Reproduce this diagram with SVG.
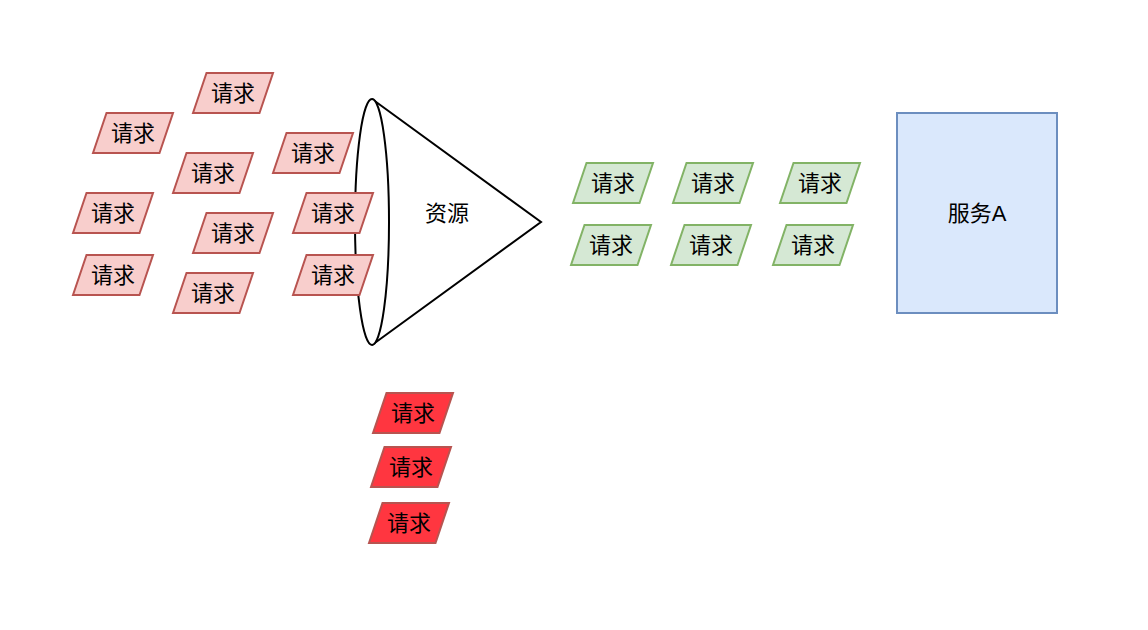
<svg xmlns="http://www.w3.org/2000/svg" xmlns:xlink="http://www.w3.org/1999/xlink" width="1148" height="630" viewBox="0 0 1148 630">
<style>
.pg{stroke-width:2;stroke-linejoin:miter}
.lr{fill:#f8cecc;stroke:#b85450}
.gr{fill:#d5e8d4;stroke:#82b366}
.dr{fill:#ff3640;stroke:#b85450}
.t{font-family:"Liberation Sans","Noto Sans CJK SC",sans-serif;font-size:22px;fill:#000;text-anchor:middle}
</style>
<defs>
<path id="pg" d="M0,40 L13.5,0 L80,0 L66.5,40 Z"/>
</defs>
<rect width="1148" height="630" fill="#fff"/>
<g id="cone">
<path d="M372,99 L541,222 L372,345" fill="#fff" stroke="#000" stroke-width="2"/>
<ellipse cx="372" cy="222" rx="17" ry="123" fill="#fff" stroke="#000" stroke-width="2"/>
<text class="t" x="447" y="221">资源</text>
</g>
<g id="connectors"/>
<g id="r1"><use href="#pg" x="193" y="73" class="pg lr"/><text class="t" x="233" y="101">请求</text></g>
<g id="r2"><use href="#pg" x="93" y="113" class="pg lr"/><text class="t" x="133" y="141">请求</text></g>
<g id="r3"><use href="#pg" x="273" y="133" class="pg lr"/><text class="t" x="313" y="161">请求</text></g>
<g id="r4"><use href="#pg" x="173" y="153" class="pg lr"/><text class="t" x="213" y="181">请求</text></g>
<g id="r5"><use href="#pg" x="73" y="193" class="pg lr"/><text class="t" x="113" y="221">请求</text></g>
<g id="r6"><use href="#pg" x="193" y="213" class="pg lr"/><text class="t" x="233" y="241">请求</text></g>
<g id="r7"><use href="#pg" x="293" y="193" class="pg lr"/><text class="t" x="333" y="221">请求</text></g>
<g id="r8"><use href="#pg" x="73" y="255" class="pg lr"/><text class="t" x="113" y="283">请求</text></g>
<g id="r9"><use href="#pg" x="173" y="273" class="pg lr"/><text class="t" x="213" y="301">请求</text></g>
<g id="r10"><use href="#pg" x="293" y="255" class="pg lr"/><text class="t" x="333" y="283">请求</text></g>
<g id="g1"><use href="#pg" x="573" y="163" class="pg gr"/><text class="t" x="613" y="191">请求</text></g>
<g id="g2"><use href="#pg" x="673" y="163" class="pg gr"/><text class="t" x="713" y="191">请求</text></g>
<g id="g3"><use href="#pg" x="780" y="163" class="pg gr"/><text class="t" x="820" y="191">请求</text></g>
<g id="g4"><use href="#pg" x="571" y="225" class="pg gr"/><text class="t" x="611" y="253">请求</text></g>
<g id="g5"><use href="#pg" x="671" y="225" class="pg gr"/><text class="t" x="711" y="253">请求</text></g>
<g id="g6"><use href="#pg" x="773" y="225" class="pg gr"/><text class="t" x="813" y="253">请求</text></g>
<g id="d1"><use href="#pg" x="373" y="393" class="pg dr"/><text class="t" x="413" y="421">请求</text></g>
<g id="d2"><use href="#pg" x="371" y="447" class="pg dr"/><text class="t" x="411" y="475">请求</text></g>
<g id="d3"><use href="#pg" x="369" y="503" class="pg dr"/><text class="t" x="409" y="531">请求</text></g>
<g id="serviceA">
<rect x="897" y="113" width="160" height="200" fill="#dae8fc" stroke="#6c8ebf" stroke-width="2"/>
<text class="t" x="977" y="221">服务A</text>
</g>
</svg>
